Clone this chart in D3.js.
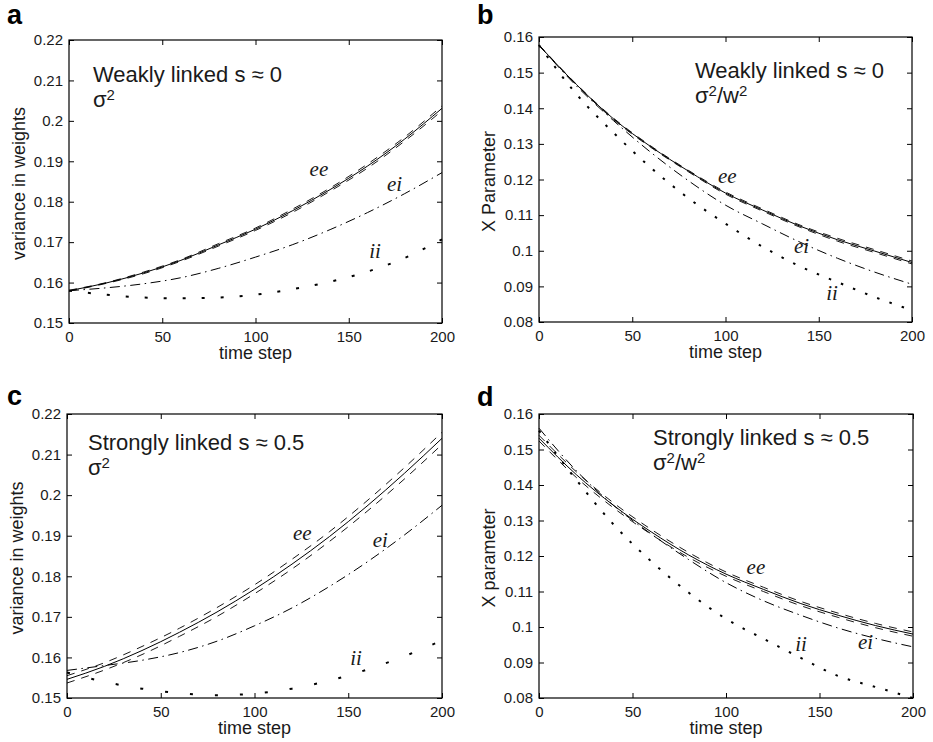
<!DOCTYPE html>
<html lang="en">
<head>
  <meta charset="UTF-8" />
  <title>Variance in weights and X parameter over time</title>
  <style>
    body {
      margin: 0;
      background: #fff;
    }
    svg {
      display: block;
      font-family: "Liberation Sans", Arial, Helvetica, sans-serif;
    }
    .tick text {
      font-size: 15px;
      fill: #1a1a1a;
    }
    .tick line {
      stroke: #000;
      stroke-width: 1;
    }
    .frame {
      fill: none;
      stroke: #000;
      stroke-width: 1.2;
    }
    .curve {
      fill: none;
      stroke: #000;
    }
    .axis-label {
      font-size: 18px;
      fill: #1a1a1a;
    }
    .note {
      font-size: 22px;
      fill: #1a1a1a;
    }
    .panel-letter {
      font-size: 27px;
      font-weight: bold;
      fill: #000;
    }
    .curve-label {
      font-family: "Liberation Serif", "Times New Roman", serif;
      font-style: italic;
      font-size: 21px;
      fill: #1a1a1a;
    }
  </style>
  <script src="https://cdn.jsdelivr.net/npm/d3@7"></script>
</head>
<body>
  <svg id="chart" width="933" height="742"></svg>

  <script>
    // ---------- 1) Data ----------
    const timeSteps = [0, 20, 40, 60, 80, 100, 120, 140, 160, 180, 200];
    const xTicks = [0, 50, 100, 150, 200];
    const varianceTicks = [0.15, 0.16, 0.17, 0.18, 0.19, 0.2, 0.21, 0.22];
    const xParamTicks = [0.08, 0.09, 0.1, 0.11, 0.12, 0.13, 0.14, 0.15, 0.16];

    // a) weakly linked, sigma^2
    const weakVarEE   = [0.1580, 0.1599, 0.1624, 0.1655, 0.1693, 0.1732, 0.1778, 0.1830, 0.1888, 0.1955, 0.2031];
    const weakVarEEHi = [0.1581, 0.1600, 0.1626, 0.1657, 0.1696, 0.1735, 0.1782, 0.1834, 0.1893, 0.1960, 0.2037];
    const weakVarEELo = [0.1579, 0.1598, 0.1622, 0.1653, 0.1690, 0.1729, 0.1774, 0.1826, 0.1883, 0.1950, 0.2025];
    const weakVarEI   = [0.1580, 0.1587, 0.1597, 0.1612, 0.1635, 0.1663, 0.1694, 0.1731, 0.1773, 0.1820, 0.1872];
    const weakVarII   = [0.1580, 0.1570, 0.1563, 0.1561, 0.1563, 0.1570, 0.1584, 0.1602, 0.1627, 0.1661, 0.1707];

    // b) weakly linked, sigma^2/w^2
    const weakXEE   = [0.1577, 0.1467, 0.1370, 0.1292, 0.1224, 0.1162, 0.1114, 0.1069, 0.1031, 0.0999, 0.0967];
    const weakXEEHi = [0.1578, 0.1468, 0.1372, 0.1294, 0.1226, 0.1165, 0.1117, 0.1072, 0.1035, 0.1003, 0.0971];
    const weakXEELo = [0.1576, 0.1466, 0.1368, 0.1290, 0.1222, 0.1159, 0.1111, 0.1066, 0.1027, 0.0995, 0.0963];
    const weakXEI   = [0.1577, 0.1463, 0.1365, 0.1276, 0.1197, 0.1128, 0.1075, 0.1024, 0.0979, 0.0940, 0.0906];
    const weakXII   = [0.1577, 0.1440, 0.1331, 0.1233, 0.1148, 0.1076, 0.1011, 0.0956, 0.0912, 0.0870, 0.0833];

    // c) strongly linked, sigma^2
    const strongVarEE   = [0.1546, 0.1578, 0.1617, 0.1662, 0.1712, 0.1768, 0.1830, 0.1898, 0.1973, 0.2054, 0.2140];
    const strongVarEEHi = [0.1555, 0.1587, 0.1627, 0.1672, 0.1723, 0.1779, 0.1842, 0.1910, 0.1986, 0.2068, 0.2155];
    const strongVarEELo = [0.1537, 0.1569, 0.1607, 0.1652, 0.1701, 0.1757, 0.1818, 0.1886, 0.1960, 0.2040, 0.2125];
    const strongVarEI   = [0.1568, 0.1580, 0.1593, 0.1612, 0.1640, 0.1678, 0.1722, 0.1775, 0.1835, 0.1902, 0.1975];
    const strongVarII   = [0.1563, 0.1540, 0.1523, 0.1512, 0.1507, 0.1511, 0.1523, 0.1543, 0.1570, 0.1603, 0.1642];

    // d) strongly linked, sigma^2/w^2
    const strongXEE   = [0.1532, 0.1429, 0.1342, 0.1268, 0.1203, 0.1149, 0.1106, 0.1066, 0.1033, 0.1004, 0.0980];
    const strongXEEHi = [0.1540, 0.1437, 0.1349, 0.1275, 0.1210, 0.1155, 0.1112, 0.1072, 0.1039, 0.1010, 0.0986];
    const strongXEELo = [0.1524, 0.1421, 0.1335, 0.1261, 0.1196, 0.1143, 0.1100, 0.1060, 0.1027, 0.0998, 0.0974];
    const strongXEI   = [0.1560, 0.1440, 0.1342, 0.1262, 0.1190, 0.1125, 0.1074, 0.1033, 0.0997, 0.0968, 0.0944];
    const strongXII   = [0.1553, 0.1414, 0.1288, 0.1185, 0.1097, 0.1023, 0.0967, 0.0913, 0.0862, 0.0831, 0.0800];

    // ---------- 2) Panel layout ----------
    const panels = [
      {
        letter: "a", letterPos: [7, 24],
        box: { left: 69, right: 442, top: 40, bottom: 323 },
        yDomain: [0.15, 0.22], yTicks: varianceTicks, yLabel: "variance in weights",
        ee: weakVarEE, eeHi: weakVarEEHi, eeLo: weakVarEELo, ei: weakVarEI, ii: weakVarII,
        note: "Weakly linked s \u2248 0", ratio: false, notePos: [93, 82, 107],
        labels: { ee: [129, 0.1864], ei: [170.5, 0.1826], ii: [161, 0.1661] },
        dots: "3,16"
      },
      {
        letter: "b", letterPos: [477, 24],
        box: { left: 539, right: 912, top: 37, bottom: 322 },
        yDomain: [0.08, 0.16], yTicks: xParamTicks, yLabel: "X Parameter",
        ee: weakXEE, eeHi: weakXEEHi, eeLo: weakXEELo, ei: weakXEI, ii: weakXII,
        note: "Weakly linked s \u2248 0", ratio: true, notePos: [695, 78, 103],
        labels: { ee: [96, 0.1191], ei: [136.7, 0.0993], ii: [154, 0.0861] },
        dots: "2.5,10.5"
      },
      {
        letter: "c", letterPos: [7, 405],
        box: { left: 67, right: 442, top: 414, bottom: 698 },
        yDomain: [0.15, 0.22], yTicks: varianceTicks, yLabel: "variance in weights",
        ee: strongVarEE, eeHi: strongVarEEHi, eeLo: strongVarEELo, ei: strongVarEI, ii: strongVarII,
        note: "Strongly linked s \u2248 0.5", ratio: false, notePos: [88, 450, 475],
        labels: { ee: [120.5, 0.189], ei: [163, 0.1873], ii: [151, 0.1581] },
        dots: "3,22"
      },
      {
        letter: "d", letterPos: [477, 406],
        box: { left: 539, right: 913, top: 414, bottom: 698 },
        yDomain: [0.08, 0.16], yTicks: xParamTicks, yLabel: "X parameter",
        ee: strongXEE, eeHi: strongXEEHi, eeLo: strongXEELo, ei: strongXEI, ii: strongXII,
        note: "Strongly linked s \u2248 0.5", ratio: true, notePos: [653, 445, 470],
        labels: { ee: [111, 0.1148], ei: [170.6, 0.0939], ii: [137, 0.0931] },
        dots: "2.5,10.5"
      }
    ];

    const svg = d3.select("#chart");
    const fmt = d => String(+d.toFixed(2));

    // ---------- 3) Draw one panel ----------
    function drawPanel(p) {
      const { left, right, top, bottom } = p.box;
      const x = d3.scaleLinear().domain([0, 200]).range([left, right]);
      const y = d3.scaleLinear().domain(p.yDomain).range([bottom, top]);
      const g = svg.append("g");

      // inward ticks on all four sides, like matlab
      g.append("g")
        .attr("transform", `translate(0,${bottom})`)
        .call(d3.axisBottom(x).tickValues(xTicks).tickFormat(fmt).tickSize(-5).tickPadding(8))
        .call(a => a.select(".domain").remove());
      g.append("g")
        .attr("transform", `translate(0,${top})`)
        .call(d3.axisTop(x).tickValues(xTicks).tickFormat("").tickSize(-5))
        .call(a => a.select(".domain").remove());
      g.append("g")
        .attr("transform", `translate(${left},0)`)
        .call(d3.axisLeft(y).tickValues(p.yTicks).tickFormat(fmt).tickSize(-5).tickPadding(6))
        .call(a => a.select(".domain").remove());
      g.append("g")
        .attr("transform", `translate(${right},0)`)
        .call(d3.axisRight(y).tickValues(p.yTicks).tickFormat("").tickSize(-5))
        .call(a => a.select(".domain").remove());

      g.selectAll(".tick text").attr("font-family", null).attr("font-size", null);

      g.append("rect")
        .attr("class", "frame")
        .attr("x", left).attr("y", top)
        .attr("width", right - left).attr("height", bottom - top);

      // curves
      const line = vals => d3.line()
        .x((d, i) => x(timeSteps[i]))
        .y(d => y(d))
        .curve(d3.curveMonotoneX)(vals);

      const curves = [
        { vals: p.eeHi, dash: "8,7", w: 0.9 },
        { vals: p.eeLo, dash: "8,7", w: 0.9 },
        { vals: p.ee, dash: null, w: 1 },
        { vals: p.ei, dash: "10,4.5,1.5,4.5", w: 1 },
        { vals: p.ii, dash: p.dots, w: 2 }
      ];
      curves.forEach(c => {
        g.append("path")
          .attr("class", "curve")
          .attr("d", line(c.vals))
          .attr("stroke-width", c.w)
          .attr("stroke-dasharray", c.dash);
      });

      // curve labels
      Object.entries(p.labels).forEach(([name, pos]) => {
        g.append("text")
          .attr("class", "curve-label")
          .attr("x", x(pos[0]))
          .attr("y", y(pos[1]))
          .text(name);
      });

      // axis labels
      g.append("text")
        .attr("class", "axis-label")
        .attr("text-anchor", "middle")
        .attr("x", (left + right) / 2)
        .attr("y", bottom + 36)
        .text("time step");
      g.append("text")
        .attr("class", "axis-label")
        .attr("text-anchor", "middle")
        .attr("transform", `translate(${left - 44},${(top + bottom) / 2 + 2}) rotate(-90)`)
        .text(p.yLabel);

      // annotation
      const [nx, ny1, ny2] = p.notePos;
      g.append("text").attr("class", "note").attr("x", nx).attr("y", ny1).text(p.note);
      const t2 = g.append("text").attr("class", "note").attr("x", nx).attr("y", ny2);
      t2.append("tspan").text("\u03c3");
      t2.append("tspan").attr("dy", -7).attr("font-size", 15).text("2");
      if (p.ratio) {
        t2.append("tspan").attr("dy", 7).text("/w");
        t2.append("tspan").attr("dy", -7).attr("font-size", 15).text("2");
      }

      // panel letter
      g.append("text")
        .attr("class", "panel-letter")
        .attr("x", p.letterPos[0])
        .attr("y", p.letterPos[1])
        .text(p.letter);
    }

    // ---------- 4) Draw all panels ----------
    panels.forEach(drawPanel);
  </script>
</body>
</html>
